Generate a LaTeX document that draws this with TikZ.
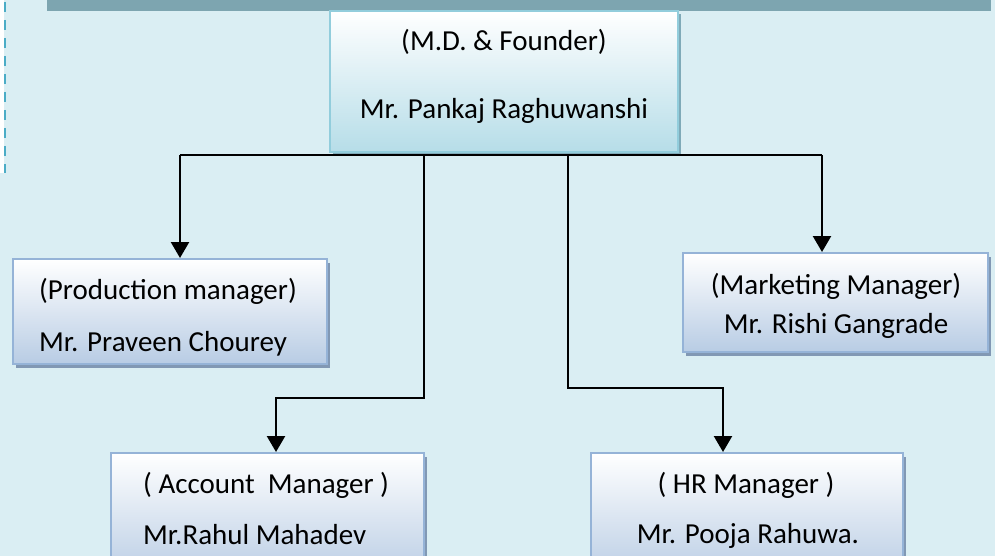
\documentclass[tikz,border=0pt]{standalone}
\usepackage{fontspec}
\setmainfont{Carlito}
\usetikzlibrary{arrows.meta,shadows}
\definecolor{bg}{HTML}{DAEEF3}
\definecolor{barc}{HTML}{7DA5B0}
\definecolor{dashc}{HTML}{4BACC6}
\definecolor{mdfill}{HTML}{B6DDE8}
\definecolor{mdline}{HTML}{92CDDC}
\definecolor{mdshadow}{HTML}{7FAAB8}
\definecolor{bxfill}{HTML}{B8CCE4}
\definecolor{bxline}{HTML}{95B3D7}
\definecolor{bxshadow}{HTML}{8198B4}
\tikzset{
  mdbox/.style={rectangle, draw=mdline, line width=2.5pt, top color=white, bottom color=mdfill,
    inner sep=0pt, drop shadow={shadow xshift=3pt, shadow yshift=-3pt, fill=mdshadow, opacity=1}},
  stdbox/.style={rectangle, draw=bxline, line width=2pt, top color=white, bottom color=bxfill,
    inner sep=0pt, drop shadow={shadow xshift=3pt, shadow yshift=-4pt, fill=bxshadow, opacity=1}},
  txt/.style={inner sep=0pt, font=\fontsize{29}{35}\selectfont, text=black},
  conn/.style={draw=black, line width=2.4pt},
  arr/.style={conn, -{Triangle[width=18pt,length=16pt]}}
}
\begin{document}
\begin{tikzpicture}[x=1pt,y=-1pt]
\useasboundingbox (0,0) rectangle (995,556);
\clip (0,0) rectangle (995,556);
\fill[bg] (0,0) rectangle (995,556);
\fill[white] (0,0) rectangle (4,173);
\fill[barc] (47,0) rectangle (991,11);
\draw[dashc, line width=2.5pt, dash pattern=on 10pt off 8pt] (5,2) -- (5,173);

% boxes
\node[mdbox, minimum width=348pt, minimum height=141pt] (md) at (504,81.5) {};
\node[stdbox, minimum width=314pt, minimum height=105pt] (prod) at (170,311.5) {};
\node[stdbox, minimum width=305pt, minimum height=99pt] (mkt) at (835.5,302.5) {};
\node[stdbox, minimum width=313pt, minimum height=127pt] (acc) at (267.5,516.5) {};
\node[stdbox, minimum width=312pt, minimum height=127pt] (hr) at (747,516.5) {};

% texts
\node[txt, anchor=base] (md1) at (504,51) {(M.D. \& Founder)};
\node[txt, anchor=base] (md2) at (504,119) {Mr. Pankaj Raghuwanshi};
\node[txt, anchor=base west] (prod1) at (39,299) {(Production manager)};
\node[txt, anchor=base west] (prod2) at (39,351) {Mr. Praveen Chourey};
\node[txt, anchor=base] (mkt1) at (836,294) {(Marketing Manager)};
\node[txt, anchor=base] (mkt2) at (836,333) {Mr. Rishi Gangrade};
\node[txt, anchor=base west] (acc1) at (143,493) {( Account\ \ Manager )};
\node[txt, anchor=base west] (acc2) at (143,544) {Mr.Rahul Mahadev};
\node[txt, anchor=base] (hr1) at (746,493) {( HR Manager )};
\node[txt, anchor=base] (hr2) at (748,543) {Mr. Pooja Rahuwa.};

% connectors
\coordinate (barL) at (180,155);
\coordinate (barR) at (822,155);
\coordinate (a1) at (424,155);
\coordinate (a2) at (276,398);
\coordinate (h1) at (568,155);
\coordinate (h2) at (723,388);
\draw[conn] (barL) -- (barR);
\draw[arr] (barL) -- (barL |- prod.north);
\draw[arr] (barR) -- (barR |- mkt.north);
\draw[arr] (a1) |- (a2) -- (a2 |- acc.north);
\draw[arr] (h1) |- (h2) -- (h2 |- hr.north);
\end{tikzpicture}
\end{document}
